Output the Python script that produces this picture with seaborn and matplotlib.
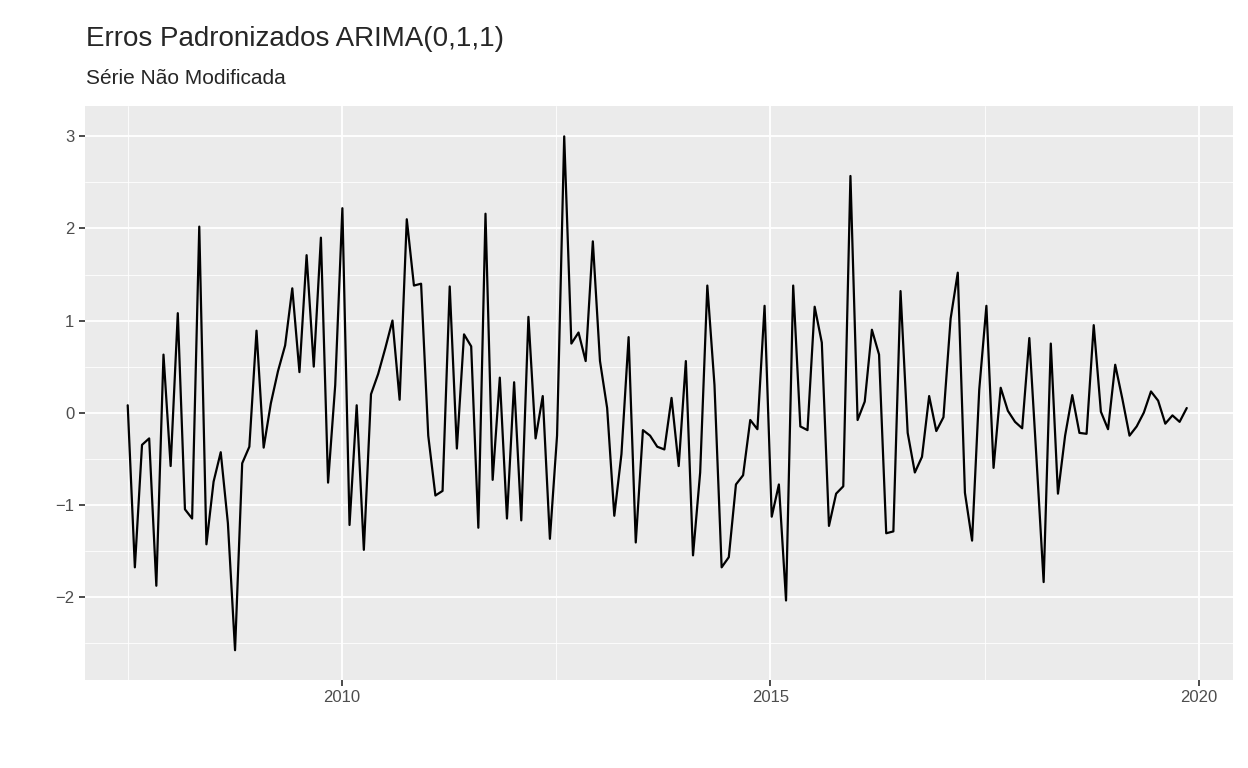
import numpy as np
import pandas as pd
import seaborn as sns
import matplotlib.pyplot as plt
from matplotlib.ticker import MultipleLocator

# standardized residuals, monthly
residuos = [0.08, -1.68, -0.35, -0.28, -1.88, 0.63, -0.58, 1.08, -1.05, -1.15,
            2.02, -1.43, -0.75, -0.43, -1.2, -2.58, -0.55, -0.37, 0.89, -0.38,
            0.1, 0.45, 0.73, 1.35, 0.44, 1.71, 0.5, 1.9, -0.76, 0.3,
            2.22, -1.22, 0.08, -1.49, 0.2, 0.42, 0.7, 1.0, 0.14, 2.1,
            1.38, 1.4, -0.25, -0.9, -0.85, 1.37, -0.39, 0.85, 0.72, -1.25,
            2.16, -0.73, 0.38, -1.15, 0.33, -1.17, 1.04, -0.28, 0.18, -1.37,
            -0.25, 3.0, 0.75, 0.87, 0.56, 1.86, 0.56, 0.05, -1.12, -0.45,
            0.82, -1.41, -0.19, -0.25, -0.37, -0.4, 0.16, -0.58, 0.56, -1.55,
            -0.65, 1.38, 0.3, -1.68, -1.57, -0.78, -0.68, -0.08, -0.18, 1.16,
            -1.13, -0.78, -2.04, 1.38, -0.15, -0.19, 1.15, 0.76, -1.23, -0.88,
            -0.8, 2.57, -0.08, 0.12, 0.9, 0.63, -1.31, -1.29, 1.32, -0.22,
            -0.65, -0.48, 0.18, -0.2, -0.05, 1.02, 1.52, -0.87, -1.39, 0.25,
            1.16, -0.6, 0.27, 0.02, -0.1, -0.17, 0.81, -0.5, -1.84, 0.75,
            -0.88, -0.25, 0.19, -0.22, -0.23, 0.95, 0.01, -0.18, 0.52, 0.15,
            -0.25, -0.15, 0.0, 0.23, 0.13, -0.12, -0.03, -0.1, 0.05]
inicio, fim = 2007.5, 2019.86
df = pd.DataFrame({"tempo": np.linspace(inicio, fim, len(residuos)), "residuo": residuos})

sns.set_theme(style="darkgrid", rc={"axes.facecolor": "#EBEBEB", "grid.color": "white"})
plt.rcParams['font.family'] = ['Liberation Sans', 'DejaVu Sans']
fig, ax = plt.subplots(figsize=(12.48, 7.68), dpi=100)
fig.subplots_adjust(left=0.068, right=0.988, top=0.862, bottom=0.115)

sns.lineplot(data=df, x="tempo", y="residuo", color="black", lw=1.6, ax=ax)

ax.set_xlim(2007.0, 2020.4)
ax.set_ylim(-2.9, 3.33)
ax.xaxis.set_major_locator(MultipleLocator(5))
ax.xaxis.set_minor_locator(MultipleLocator(2.5))
ax.yaxis.set_major_locator(MultipleLocator(1))
ax.yaxis.set_minor_locator(MultipleLocator(0.5))
ax.grid(which="major", color="white", lw=1.3)
ax.grid(which="minor", color="white", lw=0.6)
ax.tick_params(which="major", length=4, color="#333333", labelsize=12, labelcolor="#4D4D4D", left=True, bottom=True)
ax.tick_params(which="minor", length=0)
ax.set_xticklabels([f"{int(t)}" for t in ax.get_xticks()])
ax.set_xlabel("")
ax.set_ylabel("")
for s in ax.spines.values():
    s.set_visible(False)

fig.text(0.069, 0.94, "Erros Padronizados ARIMA(0,1,1)", fontsize=20)
fig.text(0.069, 0.89, "Série Não Modificada", fontsize=15)

plt.savefig("out.png")
